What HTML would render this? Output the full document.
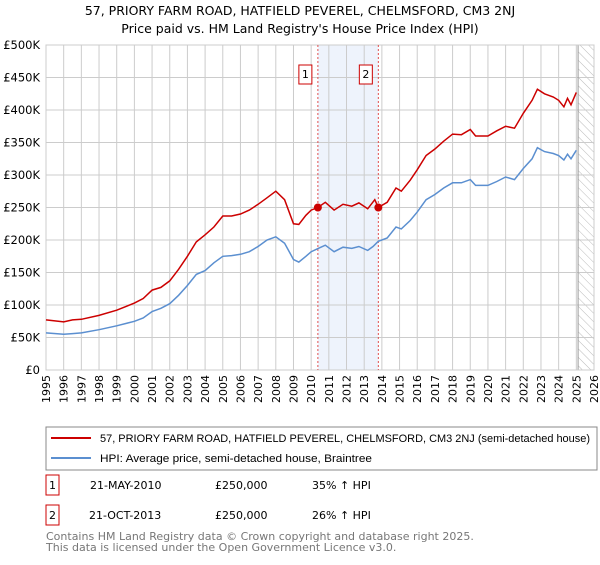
<!DOCTYPE html>
<html><head><meta charset="utf-8"><style>
body{margin:0;background:#fff;font-family:"Liberation Sans","DejaVu Sans",sans-serif}
svg text{font-family:"DejaVu Sans","Liberation Sans",sans-serif}
svg text.ls{font-family:"Liberation Sans","DejaVu Sans",sans-serif}
</style></head><body>
<svg width="600" height="560">
<defs><pattern id="hatch" width="6" height="6" patternUnits="userSpaceOnUse" patternTransform="rotate(-45)"><line x1="0" y1="0" x2="0" y2="6" stroke="#bbb" stroke-width="1"/></pattern></defs>
<text x="300" y="15" text-anchor="middle" font-size="12.5">57, PRIORY FARM ROAD, HATFIELD PEVEREL, CHELMSFORD, CM3 2NJ</text>
<text x="300" y="33" text-anchor="middle" font-size="12.5">Price paid vs. HM Land Registry's House Price Index (HPI)</text>
<g id="plot"></g>
<g>
<rect x="46" y="427" width="551" height="43" fill="#fff" stroke="#888"/>
<line x1="51" y1="438" x2="91" y2="438" stroke="#cc0000" stroke-width="2"/>
<text class="ls" x="100" y="442" font-size="11" textLength="490" lengthAdjust="spacingAndGlyphs">57, PRIORY FARM ROAD, HATFIELD PEVEREL, CHELMSFORD, CM3 2NJ (semi-detached house)</text>
<line x1="51" y1="458" x2="91" y2="458" stroke="#5b8fd0" stroke-width="2"/>
<text class="ls" x="100" y="462" font-size="11" textLength="272" lengthAdjust="spacingAndGlyphs">HPI: Average price, semi-detached house, Braintree</text>
</g>
<g font-size="11">
<rect x="46" y="475" width="13" height="20" fill="#fff" stroke="#cc0000"/><text x="52.5" y="489" text-anchor="middle">1</text>
<text x="90" y="489">21-MAY-2010</text><text x="215" y="489">£250,000</text><text x="312" y="489">35% ↑ HPI</text>
<rect x="46" y="505" width="13" height="20" fill="#fff" stroke="#cc0000"/><text x="52.5" y="519" text-anchor="middle">2</text>
<text x="89" y="519">21-OCT-2013</text><text x="215" y="519">£250,000</text><text x="312" y="519">26% ↑ HPI</text>
</g>
<text x="46" y="540" font-size="11" fill="#777">Contains HM Land Registry data © Crown copyright and database right 2025.</text>
<text x="46" y="551" font-size="11" fill="#777">This data is licensed under the Open Government Licence v3.0.</text>
</svg>
<script>
const hpiYears=[1995,1996,1996.5,1997,1998,1999,2000,2000.5,2001,2001.5,2002,2002.5,2003,2003.5,2004,2004.5,2005,2005.5,2006,2006.5,2007,2007.5,2008,2008.5,2009,2009.3,2009.7,2010,2010.4,2010.8,2011.3,2011.8,2012.3,2012.7,2013.2,2013.5,2013.8,2014.3,2014.8,2015.1,2015.6,2016,2016.5,2017,2017.5,2018,2018.5,2019,2019.3,2020,2020.5,2021,2021.5,2022,2022.5,2022.8,2023.2,2023.7,2024,2024.3,2024.5,2024.7,2025];
const hpiValues=[57,55,56,57,62,68,75,80,90,95,102,115,130,147,153,165,175,176,178,182,190,200,205,195,170,166,175,182,187,192,182,189,187,190,184,190,198,203,220,217,230,243,262,270,280,288,288,293,284,284,290,297,293,310,325,342,336,333,330,323,332,325,338];
const priceYears=[1995,1996,1996.5,1997,1998,1999,2000,2000.5,2001,2001.5,2002,2002.5,2003,2003.5,2004,2004.5,2005,2005.5,2006,2006.5,2007,2007.5,2008,2008.5,2009,2009.3,2009.7,2010,2010.38,2010.8,2011.3,2011.8,2012.3,2012.7,2013.2,2013.6,2013.8,2014.3,2014.8,2015.1,2015.6,2016,2016.5,2017,2017.5,2018,2018.5,2019,2019.3,2020,2020.5,2021,2021.5,2022,2022.5,2022.8,2023.2,2023.7,2024,2024.3,2024.5,2024.7,2025];
const priceValues=[77,74,77,78,84,92,103,110,123,127,137,155,175,197,208,220,237,237,240,246,255,265,275,262,225,224,238,246,250,258,246,255,252,257,248,262,250,258,280,275,292,308,330,340,352,363,362,370,360,360,368,375,372,395,415,432,425,420,415,405,418,408,427];
const saleYears=[2010.38,2013.8];
const saleValues=[250,250];
const saleLabels=["1","2"];
const yTicks=[0,50,100,150,200,250,300,350,400,450,500];
const yTickLabels=["£0","£50K","£100K","£150K","£200K","£250K","£300K","£350K","£400K","£450K","£500K"];
const xTicks=[1995,1996,1997,1998,1999,2000,2001,2002,2003,2004,2005,2006,2007,2008,2009,2010,2011,2012,2013,2014,2015,2016,2017,2018,2019,2020,2021,2022,2023,2024,2025,2026];

const L=46,R=594,T=45,B=370,NS="http://www.w3.org/2000/svg";
const xs=v=>L+(v-1995)/(2026-1995)*(R-L);
const ys=v=>B-v/500*(B-T);
const g=document.getElementById('plot');
function mk(t,a,p){const e=document.createElementNS(NS,t);for(const k in a)e.setAttribute(k,a[k]);(p||g).appendChild(e);return e;}
mk('rect',{x:xs(saleYears[0]),y:T,width:xs(saleYears[1])-xs(saleYears[0]),height:B-T,fill:'#eef3fc'});
mk('rect',{x:xs(2025.1),y:T,width:R-xs(2025.1),height:B-T,fill:'url(#hatch)'});
xTicks.forEach(v=>{
 const l=mk('line',{x1:xs(v),x2:xs(v),y1:T,y2:B,stroke:'#ccc'});
 
 
 const t=mk('text',{x:0,y:0,'font-size':11,'text-anchor':'end',transform:`translate(${xs(v)+4},${B+5}) rotate(-90)`});
 t.textContent=v;
 
 
});
yTicks.forEach((v,i)=>{
 const l=mk('line',{x1:L,x2:R,y1:ys(v),y2:ys(v),stroke:'#ccc'});
 
 
 const t=mk('text',{x:L-6,y:ys(v)+4,'font-size':11.5,'text-anchor':'end'});
 t.textContent=yTickLabels[i];
 
 
});
mk('line',{x1:xs(2025.1),x2:xs(2025.1),y1:T,y2:B,stroke:'#999'});
mk('rect',{x:L,y:T,width:R-L,height:B-T,fill:'none',stroke:'#ccc'});
saleYears.forEach(v=>{
 const l=mk('line',{x1:xs(v),x2:xs(v),y1:T,y2:B,stroke:'#e05050','stroke-dasharray':'2,2'});
 
 
});
function line(xa,va,c,name){
 const p=mk('path',{d:xa.map((x,i)=>(i?'L':'M')+xs(x).toFixed(1)+','+ys(va[i]).toFixed(1)).join(''),fill:'none',stroke:c,'stroke-width':1.5});
 
 
}
line(hpiYears,hpiValues,'#5b8fd0','hpi-line');
line(priceYears,priceValues,'#cc0000','price-line');
saleYears.forEach((v,i)=>{
 const c=mk('circle',{cx:xs(v),cy:ys(saleValues[i]),r:4,fill:'#cc0000'});
 
 
 const r=mk('rect',{x:xs(v)-19,y:65,width:13,height:19,fill:'#fff',stroke:'#cc0000'});
 
 
 const t=mk('text',{x:xs(v)-12.5,y:78,'font-size':11,'text-anchor':'middle'});
 t.textContent=saleLabels[i];
 
 
});
</script>
</body></html>
